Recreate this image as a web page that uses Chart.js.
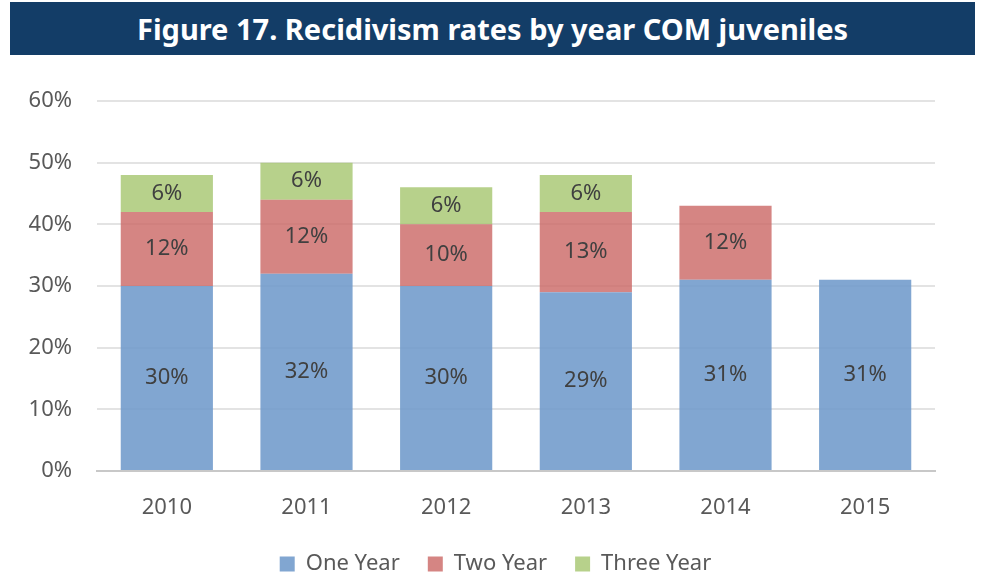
<!DOCTYPE html>
<html>
<head>
<meta charset="utf-8">
<script src="https://cdn.jsdelivr.net/npm/chart.js@4"></script>
<style>
    body { margin: 0; background: #fff; }
    #wrap { position: relative; width: 991px; height: 576px; }
    #titleBar {
        position: absolute; left: 10px; top: 2px; width: 965px; height: 53px;
        background: #133d67; color: #fff;
        font: bold 29px "Noto Sans", "Open Sans", sans-serif;
        display: flex; align-items: center; justify-content: center;
    }
    #chartBox { position: absolute; left: 0; top: 0; width: 991px; height: 576px; }
</style>
</head>
<body>
<div id="wrap">
    <div id="chartBox"><canvas id="recidChart"></canvas></div>
    <div id="titleBar">Figure 17. Recidivism rates by year COM juveniles</div>
</div>
<script>
const years = ['2010', '2011', '2012', '2013', '2014', '2015'];
const oneYear = [30, 32, 30, 29, 31, 31];
const twoYear = [12, 12, 10, 13, 12, null];
const threeYear = [6, 6, 6, 6, null, null];
const yTicks = [0, 10, 20, 30, 40, 50, 60];

const FONT = '"Noto Sans", "Open Sans", sans-serif';

// labels in the middle of each bar segment
const segmentLabels = {
    id: 'segmentLabels',
    afterDatasetsDraw(chart) {
        const ctx = chart.ctx;
        ctx.save();
        ctx.font = '22px ' + FONT;
        ctx.fillStyle = '#404040';
        ctx.textAlign = 'center';
        ctx.textBaseline = 'middle';
        chart.data.datasets.forEach((ds, i) => {
            const meta = chart.getDatasetMeta(i);
            meta.data.forEach((bar, j) => {
                const v = ds.data[j];
                if (v == null) return;
                const mid = (bar.y + bar.base) / 2;
                ctx.fillText(v + '%', bar.x, mid);
            });
        });
        ctx.restore();
    }
};

new Chart(document.getElementById('recidChart'), {
    type: 'bar',
    data: {
        labels: years,
        datasets: [
            { label: 'One Year', data: oneYear, backgroundColor: 'rgba(110,153,202,0.87)' },
            { label: 'Two Year', data: twoYear, backgroundColor: 'rgba(203,102,100,0.80)' },
            { label: 'Three Year', data: threeYear, backgroundColor: 'rgba(165,198,110,0.80)' }
        ]
    },
    options: {
        responsive: true,
        maintainAspectRatio: false,
        animation: false,
        datasets: { bar: { categoryPercentage: 1, barPercentage: 0.66 } },
        layout: { padding: { top: 101, right: 0, left: 0, bottom: -9 } },
        scales: {
            x: {
                stacked: true,
                grid: { display: false, drawTicks: false },
                border: { color: '#c8c8c8', width: 2 },
                afterFit: scale => { scale.height = 54; },
                ticks: { color: '#595959', font: { family: FONT, size: 22 }, padding: 24 }
            },
            y: {
                stacked: true,
                min: 0,
                max: 60,
                afterBuildTicks: scale => { scale.ticks = yTicks.map(v => ({ value: v })); },
                afterFit: scale => { scale.width = 97; },
                grid: { color: '#e3e3e3', lineWidth: 2, drawTicks: false },
                border: { display: false },
                ticks: {
                    color: '#595959',
                    font: { family: FONT, size: 22 },
                    padding: 25,
                    callback: v => v + '%'
                }
            },
            // empty right-hand gutter so the legend stays centred on the page
            gutter: {
                position: 'right',
                display: true,
                grid: { display: false, drawTicks: false },
                border: { display: false },
                ticks: { display: false },
                afterFit: scale => { scale.width = 56; }
            }
        },
        plugins: {
            legend: {
                position: 'bottom',
                labels: {
                    color: '#595959',
                    font: { family: FONT, size: 22 },
                    boxWidth: 15,
                    boxHeight: 15,
                    padding: 28
                }
            },
            tooltip: { enabled: false }
        }
    },
    plugins: [segmentLabels]
});
</script>
</body>
</html>
